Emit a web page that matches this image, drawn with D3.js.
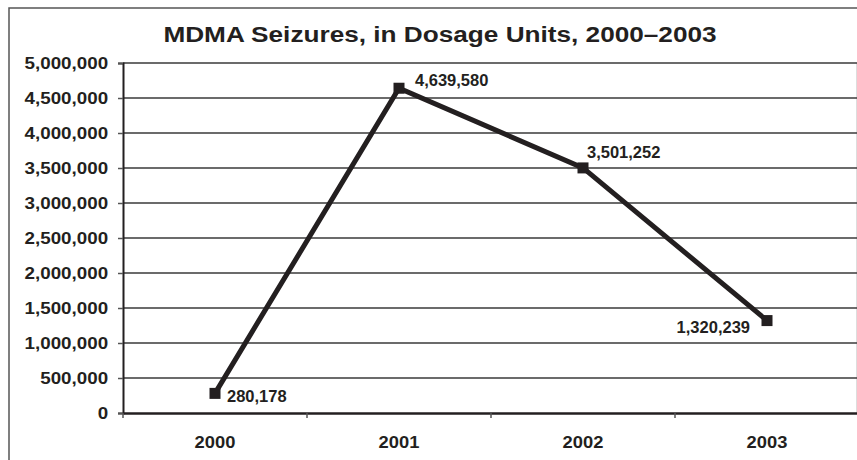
<!DOCTYPE html>
<html>
<head>
<meta charset="utf-8">
<script src="https://cdn.jsdelivr.net/npm/d3@7"></script>
<style>
  body { margin: 0; background: #fff; }
  svg { display: block; font-family: "Liberation Sans", Arial, sans-serif; }
</style>
</head>
<body>
<div id="vis"></div>
<script>
// chart data
const years = ["2000", "2001", "2002", "2003"];
const seizures = [280178, 4639580, 3501252, 1320239];
const yTicks = [0, 500000, 1000000, 1500000, 2000000, 2500000, 3000000, 3500000, 4000000, 4500000, 5000000];

// where each value label sits next to its point (dx, dy, anchor)
const labelPlace = [[12, 9, "start"], [16, -2, "start"], [4, -10, "start"], [-17, 12, "end"]];

const FRAME_WIDTH = 857;
const FRAME_HEIGHT = 460;
const MARGINS = {left: 123, right: -2, top: 63, bottom: 47};
const VIS_WIDTH = FRAME_WIDTH - MARGINS.left - MARGINS.right;
const VIS_HEIGHT = FRAME_HEIGHT - MARGINS.top - MARGINS.bottom;
const INK = "#231f20";

const svg = d3.select("#vis")
  .append("svg")
  .attr("width", FRAME_WIDTH)
  .attr("height", FRAME_HEIGHT);

// outer frame (right and bottom edges fall outside the picture)
svg.append("rect")
  .attr("x", 9).attr("y", 8)
  .attr("width", 880).attr("height", 480)
  .attr("fill", "none")
  .attr("stroke", "#555")
  .attr("stroke-width", 1.5);

// title
svg.append("text")
  .attr("transform", "translate(440,42) scale(1.19,1)")
  .attr("text-anchor", "middle")
  .attr("font-size", "22px")
  .attr("font-weight", "bold")
  .attr("fill", INK)
  .text("MDMA Seizures, in Dosage Units, 2000\u20132003");

const X_SCALE = d3.scaleBand()
  .domain(years)
  .range([0, VIS_WIDTH]);

const Y_SCALE = d3.scaleLinear()
  .domain([0, 5000000])
  .range([VIS_HEIGHT, 0]);

const g = svg.append("g")
  .attr("transform", "translate(" + MARGINS.left + "," + MARGINS.top + ")");

// plot area right edge
g.append("line")
  .attr("x1", VIS_WIDTH - 2).attr("x2", VIS_WIDTH - 2)
  .attr("y1", 0).attr("y2", VIS_HEIGHT)
  .attr("stroke", "#bbb")
  .attr("stroke-width", 1);

// gridlines
g.selectAll(".grid")
  .data(yTicks.slice(1))
  .enter()
  .append("line")
    .attr("x1", 0)
    .attr("x2", VIS_WIDTH)
    .attr("y1", d => Y_SCALE(d))
    .attr("y2", d => Y_SCALE(d))
    .attr("stroke", "#3a3a3a")
    .attr("stroke-width", 1.5);

// y axis
const yAxis = g.append("g")
  .call(d3.axisLeft(Y_SCALE).tickValues(yTicks).tickSize(5).tickPadding(8).tickFormat(d3.format(",")));
yAxis.select(".domain").attr("stroke", INK).attr("stroke-width", 2);
yAxis.selectAll(".tick line").attr("stroke", "#555").attr("stroke-width", 1.5);
yAxis.selectAll("text")
  .attr("font-size", "16.5px")
  .attr("font-weight", "bold")
  .attr("fill", INK)
  .attr("font-family", "Liberation Sans, Arial, sans-serif")
  .attr("transform", "scale(1.14,1)");

// x axis, ticks sit on the band edges
const xAxis = g.append("g")
  .attr("transform", "translate(0," + VIS_HEIGHT + ")")
  .call(d3.axisBottom(X_SCALE).tickSize(0).tickPadding(23));
xAxis.select(".domain").attr("stroke", INK).attr("stroke-width", 2.5);
xAxis.selectAll("text")
  .attr("font-size", "17px")
  .attr("font-weight", "bold")
  .attr("fill", INK)
  .attr("font-family", "Liberation Sans, Arial, sans-serif")
  .attr("transform", "scale(1.08,1)");

g.selectAll(".xtick")
  .data(years)
  .enter()
  .append("line")
    .attr("x1", d => X_SCALE(d))
    .attr("x2", d => X_SCALE(d))
    .attr("y1", VIS_HEIGHT)
    .attr("y2", VIS_HEIGHT + 5)
    .attr("stroke", "#555")
    .attr("stroke-width", 1.5);

const cx = d => X_SCALE(d) + X_SCALE.bandwidth() / 2;

// the line
const line = d3.line()
  .x((d, i) => cx(years[i]))
  .y(d => Y_SCALE(d));

g.append("path")
  .datum(seizures)
  .attr("d", line)
  .attr("fill", "none")
  .attr("stroke", INK)
  .attr("stroke-width", 5)
  .attr("stroke-linejoin", "miter");

// square markers
g.selectAll(".mark")
  .data(seizures)
  .enter()
  .append("rect")
    .attr("x", (d, i) => cx(years[i]) - 5.5)
    .attr("y", d => Y_SCALE(d) - 5.5)
    .attr("width", 11)
    .attr("height", 11)
    .attr("fill", INK);

// value labels
g.selectAll(".lbl")
  .data(seizures)
  .enter()
  .append("text")
    .attr("x", (d, i) => cx(years[i]) + labelPlace[i][0])
    .attr("y", d => Y_SCALE(d))
    .attr("dy", (d, i) => labelPlace[i][1])
    .attr("text-anchor", (d, i) => labelPlace[i][2])
    .attr("font-size", "16.5px")
    .attr("font-weight", "bold")
    .attr("fill", INK)
    .text(d => d3.format(",")(d));
</script>
</body>
</html>
